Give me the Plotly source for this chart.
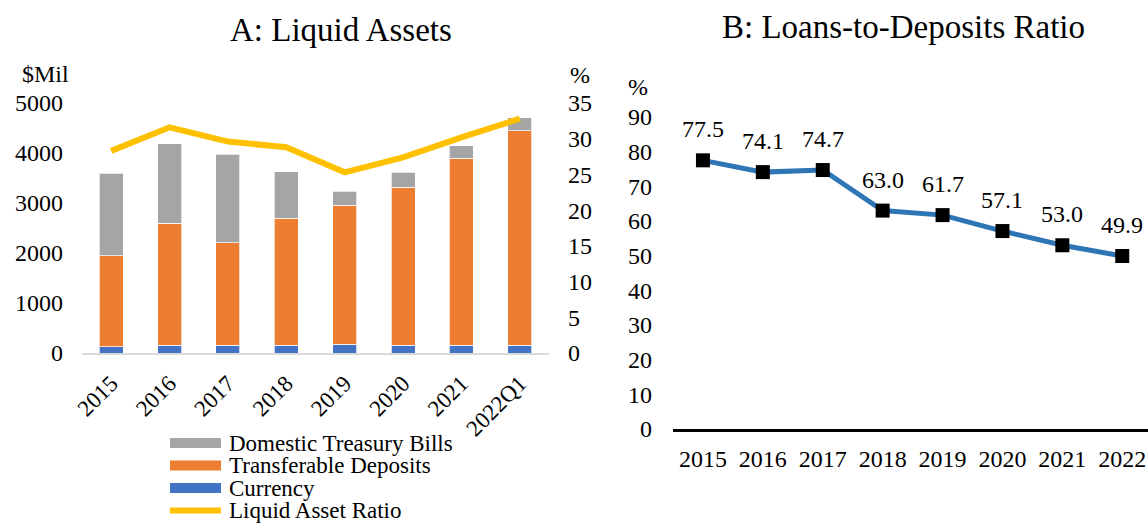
import plotly.graph_objects as go

W, H = 1148, 525

# ---- Data ----
years_a = ["2015", "2016", "2017", "2018", "2019", "2020", "2021", "2022Q1"]
currency = [130, 160, 155, 155, 175, 155, 155, 155]
transferable = [1820, 2440, 2055, 2545, 2785, 3165, 3745, 4295]
treasury = [1650, 1590, 1770, 930, 280, 300, 250, 260]
liquid_ratio = [28.3, 31.6, 29.6, 28.8, 25.3, 27.4, 30.2, 32.8]

years_b = ["2015", "2016", "2017", "2018", "2019", "2020", "2021", "2022"]
loan_dep = [77.5, 74.1, 74.7, 63.0, 61.7, 57.1, 53.0, 49.9]

C_GRAY = "#A5A5A5"
C_ORANGE = "#ED7D31"
C_BLUE = "#4472C4"
C_YELLOW = "#FFC000"
C_LINE = "#2E75B6"
FONT = "Liberation Serif"


def px(x):
    return x / W


def py(y):
    return 1 - y / H


fig = go.Figure()
bar_line = dict(color="rgba(255,255,255,0.7)", width=1)
fig.add_trace(go.Bar(x=years_a, y=currency, name="Currency",
                     marker=dict(color=C_BLUE, line=bar_line), width=0.41,
                     xaxis="x", yaxis="y"))
fig.add_trace(go.Bar(x=years_a, y=transferable, name="Transferable Deposits",
                     marker=dict(color=C_ORANGE, line=bar_line), width=0.41,
                     xaxis="x", yaxis="y"))
fig.add_trace(go.Bar(x=years_a, y=treasury, name="Domestic Treasury Bills",
                     marker=dict(color=C_GRAY, line=bar_line), width=0.41,
                     xaxis="x", yaxis="y"))
fig.add_trace(go.Scatter(x=years_a, y=liquid_ratio, name="Liquid Asset Ratio",
                         mode="lines", line=dict(color=C_YELLOW, width=6),
                         xaxis="x", yaxis="y2"))

fig.add_trace(go.Scatter(x=years_b, y=loan_dep, name="Loans-to-Deposits Ratio",
                         mode="lines+markers",
                         line=dict(color=C_LINE, width=5),
                         marker=dict(symbol="square", size=14, color="black"),
                         xaxis="x2", yaxis="y3", cliponaxis=False))

tickfont = dict(family=FONT, size=24, color="black")


def txt(x, y, text, size=24, xanchor="center"):
    return dict(x=px(x), y=py(y), xref="paper", yref="paper", text=text,
                xanchor=xanchor, yanchor="middle", showarrow=False,
                font=dict(family=FONT, size=size, color="black"))


annotations = []
for i, v in enumerate(loan_dep):
    annotations.append(dict(x=i, y=v, xref="x2", yref="y3", text=f"{v:.1f}",
                            xanchor="center", yanchor="middle",
                            showarrow=False, yshift=31,
                            font=dict(family=FONT, size=24, color="black")))

annotations += [
    txt(341, 30, "A: Liquid Assets", 33),
    txt(903, 27, "B: Loans-to-Deposits Ratio", 33),
    txt(45, 74, "$Mil"),
    txt(580, 75, "%"),
    txt(638, 87, "%"),
]

# manual legend
legend_items = [
    ("Domestic Treasury Bills", C_GRAY, "bar"),
    ("Transferable Deposits", C_ORANGE, "bar"),
    ("Currency", C_BLUE, "bar"),
    ("Liquid Asset Ratio", C_YELLOW, "line"),
]
shapes = []
for i, (label, col, kind) in enumerate(legend_items):
    yc = 443 + i * 22.5
    if kind == "bar":
        shapes.append(dict(type="rect", xref="paper", yref="paper",
                           x0=px(170), x1=px(221), y0=py(yc - 5), y1=py(yc + 5),
                           fillcolor=col, line=dict(width=0)))
    else:
        shapes.append(dict(type="line", xref="paper", yref="paper",
                           x0=px(170), x1=px(221), y0=py(yc), y1=py(yc),
                           line=dict(color=col, width=6)))
    annotations.append(txt(227, yc, label, 23, xanchor="left"))

fig.update_layout(
    width=W, height=H,
    margin=dict(l=0, r=0, t=0, b=0, autoexpand=False),
    paper_bgcolor="white", plot_bgcolor="white",
    barmode="stack", showlegend=False,
    font=dict(family=FONT, color="black"),
    xaxis=dict(domain=[px(82), px(549)], type="category", tickangle=-45,
               showgrid=False, showline=True, linecolor="#D9D9D9", linewidth=2,
               ticks="", tickfont=dict(family=FONT, size=23, color="black"),
               ticklabelstandoff=6, anchor="y", automargin=False),
    yaxis=dict(domain=[py(353), py(103)], range=[0, 5000], dtick=1000,
               showgrid=False, zeroline=False, showline=False, ticks="",
               tickfont=tickfont, ticklabelstandoff=18, anchor="x",
               automargin=False),
    yaxis2=dict(domain=[py(353), py(103)], range=[0, 35], dtick=5,
                overlaying="y", side="right", anchor="x",
                showgrid=False, zeroline=False, showline=False, ticks="",
                tickfont=tickfont, ticklabelstandoff=18, automargin=False),
    xaxis2=dict(domain=[px(673), 1.0], type="category", range=[-0.5, 7.43],
                showgrid=False, showline=True, linecolor="black", linewidth=2.5,
                ticks="", tickfont=tickfont, ticklabelstandoff=6, anchor="y3",
                automargin=False),
    yaxis3=dict(domain=[py(429), py(117)], range=[0, 90], dtick=10,
                showgrid=False, zeroline=False, showline=False, ticks="",
                tickfont=tickfont, ticklabelstandoff=20, anchor="x2",
                automargin=False),
    annotations=annotations,
    shapes=shapes,
)

fig.write_html("out.html",
               config={"displayModeBar": False},
               post_script="document.body.style.margin='0px';"
                           "document.body.style.overflow='hidden';")
